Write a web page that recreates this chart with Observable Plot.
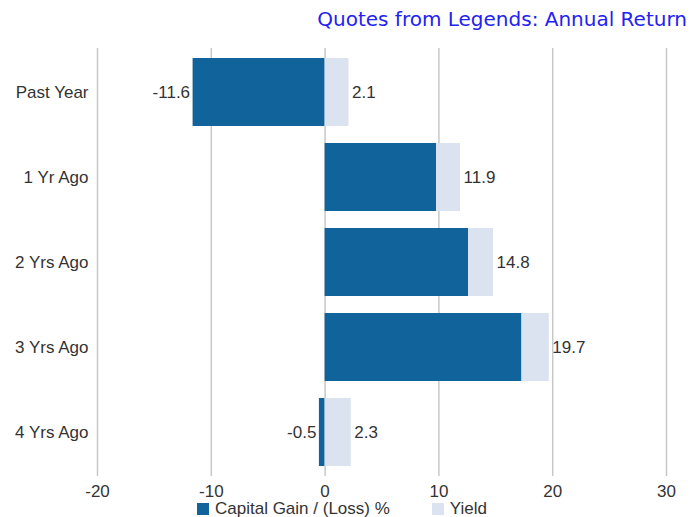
<!DOCTYPE html>
<html>
<head>
<meta charset="utf-8">
<script src="https://cdn.jsdelivr.net/npm/d3@7"></script>
<script src="https://cdn.jsdelivr.net/npm/@observablehq/plot@0.6"></script>
<style>
  html, body { margin: 0; padding: 0; background: #fff; }
  #wrap { position: relative; width: 695px; height: 517px; overflow: hidden; font-family: "Liberation Sans", Arial, sans-serif; }
  #title { height: 40px; box-sizing: border-box; padding-right: 8px; padding-top: 7px; text-align: right; color: #2222f2; font-family: "DejaVu Sans", sans-serif; font-size: 20px; line-height: 24px; letter-spacing: 0; }
  #legend { position: absolute; top: 500px; left: 197px; font-size: 17px; color: #333; white-space: nowrap; line-height: 18px; }
  #legend .sw { display: inline-block; width: 12px; height: 12px; vertical-align: -1px; margin-right: 6px; }
  #legend .item { display: inline-block; }
</style>
</head>
<body>
<div id="wrap">
  <div id="title">Quotes from Legends: Annual Return</div>
  <div id="chart"></div>
  <div id="legend"></div>
</div>
<script>
const categories = ["Past Year", "1 Yr Ago", "2 Yrs Ago", "3 Yrs Ago", "4 Yrs Ago"];
const capitalGain = [-11.6, 9.8, 12.6, 17.3, -0.5];
const yieldValues = [2.1, 2.1, 2.2, 2.4, 2.3];
const seriesNames = ["Capital Gain / (Loss) %", "Yield"];
const seriesColors = ["#11639c", "#dae3ef"];
const xTicks = [-20, -10, 0, 10, 20, 30];

const rows = [];
categories.forEach((c, i) => {
  rows.push({cat: c, series: seriesNames[0], value: capitalGain[i]});
  rows.push({cat: c, series: seriesNames[1], value: yieldValues[i]});
});

const fmt = v => (Math.round(v * 10) / 10).toFixed(1);
const leftLabels = [];
const rightLabels = [];
categories.forEach((c, i) => {
  if (capitalGain[i] < 0) {
    leftLabels.push({cat: c, x: capitalGain[i], text: fmt(capitalGain[i])});
    rightLabels.push({cat: c, x: yieldValues[i], text: fmt(yieldValues[i])});
  } else {
    const t = capitalGain[i] + yieldValues[i];
    rightLabels.push({cat: c, x: t, text: fmt(t)});
  }
});

const chart = Plot.plot({
  width: 695,
  height: 462,
  marginLeft: 97,
  marginRight: 29,
  marginTop: 8,
  marginBottom: 26,
  style: {fontSize: "17px", fontFamily: "'Liberation Sans', Arial, sans-serif", color: "#333", background: "#fff"},
  x: {domain: [-20, 30], ticks: xTicks, tickFormat: d => String(d), label: null},
  y: {domain: categories, paddingInner: 0.2, paddingOuter: 0.1, label: null},
  color: {domain: seriesNames, range: seriesColors},
  marks: [
    Plot.gridX(xTicks, {stroke: "#c8c8c8", strokeOpacity: 1, strokeWidth: 1.5}),
    Plot.axisX({ticks: xTicks, tickSize: 0, tickPadding: 8, tickFormat: d => String(d), label: null, fill: "#333"}),
    Plot.axisY({tickSize: 0, tickPadding: 9, label: null, fill: "#333"}),
    Plot.barX(rows, Plot.stackX({y: "cat", x: "value", fill: "series", order: seriesNames})),
    Plot.text(leftLabels, {y: "cat", x: "x", text: "text", textAnchor: "end", dx: -3, fill: "#333"}),
    Plot.text(rightLabels, {y: "cat", x: "x", text: "text", textAnchor: "start", dx: 3, fill: "#333"})
  ]
});
document.getElementById("chart").appendChild(chart);

const legend = document.getElementById("legend");
seriesNames.forEach((n, i) => {
  const item = document.createElement("span");
  item.className = "item";
  if (i > 0) item.style.marginLeft = "42px";
  const sw = document.createElement("span");
  sw.className = "sw";
  sw.style.background = seriesColors[i];
  item.appendChild(sw);
  item.appendChild(document.createTextNode(n));
  legend.appendChild(item);
});
</script>
</body>
</html>
